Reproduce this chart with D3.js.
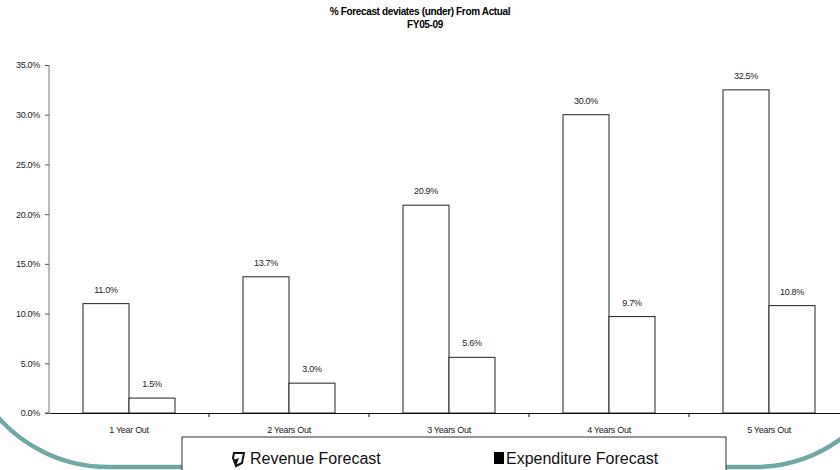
<!DOCTYPE html>
<html>
<head>
<meta charset="utf-8">
<script src="https://cdn.jsdelivr.net/npm/d3@7"></script>
<style>
  body { margin: 0; background: #fff; }
  svg { display: block; font-family: "Liberation Sans", Arial, sans-serif; }
</style>
</head>
<body>
<svg id="chart" width="840" height="470"></svg>
<script>
var categories = ["1 Year Out", "2 Years Out", "3 Years Out", "4 Years Out", "5 Years Out"];
var revenue = [11.0, 13.7, 20.9, 30.0, 32.5];
var expenditure = [1.5, 3.0, 5.6, 9.7, 10.8];
var yTicks = [0, 5, 10, 15, 20, 25, 30, 35];
var seriesNames = ["Revenue Forecast", "Expenditure Forecast"];

var svg = d3.select("#chart");

// frame of the slide, only the bottom corners show
svg.append("path")
  .attr("d", "M -8 410 A 147 147 0 0 0 108 467 L 754 467 A 147 147 0 0 0 842 438")
  .attr("fill", "none")
  .attr("stroke", "#6fa8a4")
  .attr("stroke-width", 4.5);

// plot area, the last category runs off the right edge like the original
var x0 = d3.scaleBand().domain(categories).range([49, 849]);
var x1 = d3.scaleBand().domain([0, 1]).range([34, 126]);
var y = d3.scaleLinear().domain([0, 35]).range([413, 65]);

svg.append("text")
  .attr("x", 420).attr("y", 15)
  .attr("text-anchor", "middle")
  .attr("font-size", 10).attr("font-weight", "bold")
  .attr("letter-spacing", -0.35)
  .text("% Forecast deviates (under) From Actual");
svg.append("text")
  .attr("x", 425).attr("y", 28)
  .attr("text-anchor", "middle")
  .attr("font-size", 10).attr("font-weight", "bold")
  .attr("letter-spacing", -0.35)
  .text("FY05-09");

// y axis
var yAxis = svg.append("g")
  .attr("transform", "translate(49,0)")
  .call(d3.axisLeft(y).tickValues(yTicks).tickSize(4).tickFormat(function (d) { return d.toFixed(1) + "%"; }));
yAxis.select(".domain").attr("stroke", "#777").attr("d", "M0," + y(35) + "V" + y(0));
yAxis.selectAll(".tick line").attr("stroke", "#555");
yAxis.selectAll(".tick text").attr("font-size", 9).attr("fill", "#222").attr("letter-spacing", -0.3).attr("dx", -2);

// bars
var groups = svg.append("g").selectAll("g")
  .data(categories)
  .enter().append("g")
  .attr("transform", function (d) { return "translate(" + x0(d) + ",0)"; });

groups.append("rect")
  .attr("x", x1(0)).attr("width", x1.bandwidth())
  .attr("y", function (d, i) { return y(revenue[i]); })
  .attr("height", function (d, i) { return y(0) - y(revenue[i]); })
  .attr("fill", "#fff").attr("stroke", "#222").attr("stroke-width", 1);
groups.append("rect")
  .attr("x", x1(1)).attr("width", x1.bandwidth())
  .attr("y", function (d, i) { return y(expenditure[i]); })
  .attr("height", function (d, i) { return y(0) - y(expenditure[i]); })
  .attr("fill", "#fff").attr("stroke", "#222").attr("stroke-width", 1);

groups.append("text")
  .attr("x", x1(0) + x1.bandwidth() / 2)
  .attr("y", function (d, i) { return y(revenue[i]) - 11; })
  .attr("text-anchor", "middle").attr("font-size", 9).attr("letter-spacing", -0.3).attr("fill", "#222")
  .text(function (d, i) { return revenue[i].toFixed(1) + "%"; });
groups.append("text")
  .attr("x", x1(1) + x1.bandwidth() / 2)
  .attr("y", function (d, i) { return y(expenditure[i]) - 11; })
  .attr("text-anchor", "middle").attr("font-size", 9).attr("letter-spacing", -0.3).attr("fill", "#222")
  .text(function (d, i) { return expenditure[i].toFixed(1) + "%"; });

// x axis
var xAxis = svg.append("g")
  .attr("transform", "translate(0," + y(0) + ")")
  .call(d3.axisBottom(x0).tickSize(0).tickPadding(14));
xAxis.select(".domain").attr("stroke", "#111");
xAxis.selectAll(".tick text").attr("font-size", 9).attr("fill", "#222").attr("letter-spacing", -0.3);
xAxis.selectAll(".sep")
  .data(categories.slice(1))
  .enter().append("line")
  .attr("class", "sep")
  .attr("x1", function (d) { return x0(d); }).attr("x2", function (d) { return x0(d); })
  .attr("y1", 0).attr("y2", 4)
  .attr("stroke", "#111");
svg.append("line")
  .attr("x1", 45).attr("x2", 49).attr("y1", y(0)).attr("y2", y(0))
  .attr("stroke", "#555");

// legend
var legend = svg.append("g");
legend.append("rect")
  .attr("x", 182).attr("y", 437).attr("width", 544).attr("height", 60)
  .attr("fill", "#fff").attr("stroke", "#333").attr("stroke-width", 1);
legend.append("path")
  .attr("d", "M234,453 L244,453 L242,463 L236,466 L233,458 Z")
  .attr("fill", "#fff").attr("stroke", "#111").attr("stroke-width", 2);
legend.append("path")
  .attr("d", "M233,460 L239,458 L236,466 Z")
  .attr("fill", "#111");
legend.append("rect")
  .attr("x", 494).attr("y", 452).attr("width", 10).attr("height", 12)
  .attr("fill", "#000");
legend.selectAll(".lbl")
  .data(seriesNames)
  .enter().append("text")
  .attr("class", "lbl")
  .attr("x", function (d, i) { return i === 0 ? 250 : 506; })
  .attr("y", 464)
  .attr("font-size", 16).attr("fill", "#111")
  .text(function (d) { return d; });
</script>
</body>
</html>
